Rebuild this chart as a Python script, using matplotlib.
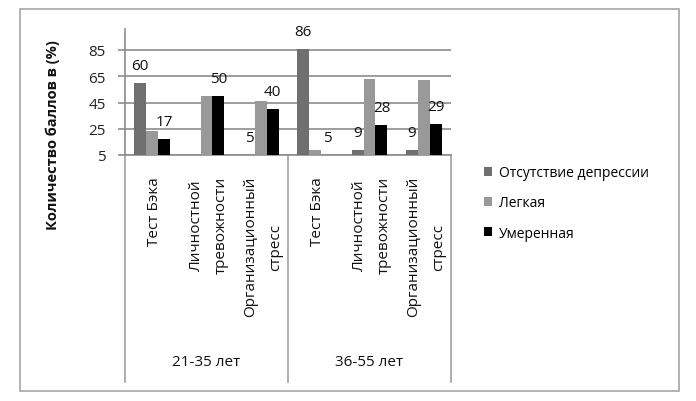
import matplotlib
matplotlib.use("Agg")
import matplotlib.pyplot as plt
from matplotlib.patches import Rectangle, Patch
import numpy as np

plt.rcParams['font.family'] = ['Open Sans', 'DejaVu Sans']

groups = ["21-35 лет", "36-55 лет"]
categories = ["Тест Бэка", "Личностной\nтревожности", "Организационный\nстресс",
              "Тест Бэка", "Личностной\nтревожности", "Организационный\nстресс"]
series_names = ["Отсутствие депрессии", "Легкая", "Умеренная"]
no_depression = [60, 5, 5, 86, 9, 9]
light = [23, 50, 46, 9, 63, 62]
moderate = [17, 50, 40, 5, 28, 29]
# which bars carry a data label
labels_no_depression = [True, False, True, True, True, True]
labels_light = [False, False, False, False, False, False]
labels_moderate = [True, True, True, True, True, True]
yticks = [5, 25, 45, 65, 85]

colors = ["#6f6f6f", "#999999", "#000000"]
W, H = 696, 402
fig = plt.figure(figsize=(W / 100, H / 100), dpi=100)

# outer chart border
fig.patches.append(Rectangle((20 / W, 1 - 392 / H), (679 - 20) / W, (392 - 10) / H,
                             transform=fig.transFigure, fill=False,
                             edgecolor="#a6a6a6", linewidth=1.2))

ax = fig.add_axes([125 / W, 1 - 156 / H, (451 - 125) / W, (156 - 30) / H])
n = len(categories)
x = np.arange(n) + 0.5
bw = 0.22
all_series = [no_depression, light, moderate]
all_labels = [labels_no_depression, labels_light, labels_moderate]
for k, (vals, labs) in enumerate(zip(all_series, all_labels)):
    xs = x + (k - 1) * bw
    ax.bar(xs, vals, width=bw, color=colors[k], label=series_names[k], zorder=3)
    for xi, v, show in zip(xs, vals, labs):
        if show:
            ax.annotate(str(v), (xi, v), xytext=(0, 12.5), textcoords="offset points",
                        ha="center", va="center", fontsize=11, color="#111111")

ax.set_xlim(0, n)
ax.set_ylim(5, 101)
ax.set_yticks(yticks)
ax.set_yticklabels([str(t) for t in yticks], fontsize=11, color="#222222")
ax.grid(axis="y", color="#8c8c8c", linewidth=1.2, zorder=0)
ax.set_axisbelow(True)
for s in ["top", "right"]:
    ax.spines[s].set_visible(False)
ax.spines["left"].set_color("#8c8c8c")
ax.spines["bottom"].set_color("#8c8c8c")
ax.spines["left"].set_linewidth(1.2)
ax.spines["bottom"].set_linewidth(1.2)
ax.tick_params(axis="y", length=5, color="#8c8c8c", pad=9, width=1.2)
ax.set_xticks([])

tr = ax.get_xaxis_transform()
ax_h = 156 - 30
for xi, cat in zip(x, categories):
    ax.text(xi + 0.04, -21 / ax_h, cat, transform=tr, rotation=90, ha="center", va="top",
            multialignment="center", linespacing=1.85, fontsize=11, color="#111111")
for sep in [0, 3, 6]:
    ax.plot([sep, sep], [0, -(383 - 156) / ax_h], transform=tr, color="#a0a0a0",
            linewidth=1.2, clip_on=False)
for gi, g in enumerate(groups):
    ax.text(gi * 3 + 1.5, -(363 - 156) / ax_h, g, transform=tr, ha="center", va="center",
            fontsize=11, color="#111111")

fig.text(53 / W, 1 - 135 / H, "Количество баллов в (%)", rotation=90, ha="center",
         va="center", fontsize=10.5, fontweight="bold", color="#111111")

handles = [Patch(facecolor=c, edgecolor="none") for c in colors]
fig.legend(handles, series_names, loc="upper left",
           bbox_to_anchor=(484 / W, 1 - 166 / H), frameon=False, fontsize=10,
           handlelength=0.6, handleheight=0.6, handletextpad=0.5, labelspacing=1.1,
           borderaxespad=0, borderpad=0)

fig.savefig("out.png", dpi=100)
